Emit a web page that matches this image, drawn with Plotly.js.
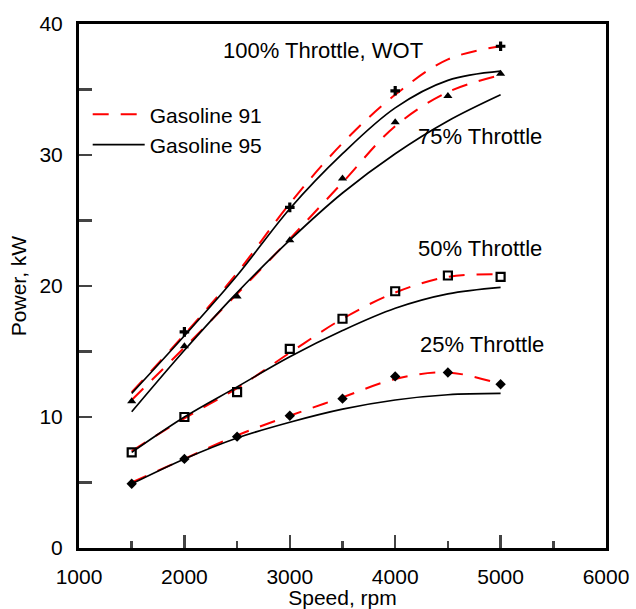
<!DOCTYPE html>
<html>
<head>
<meta charset="utf-8">
<script src="https://cdn.plot.ly/plotly-3.0.1.min.js"></script>
<style>html,body{margin:0;padding:0;background:#fff;}#chart{width:636px;height:609px;}</style>
</head>
<body>
<div id="chart"></div>
<script>
// Speed (rpm) for fitted curves
const speedFit = [1500, 2000, 2500, 3000, 3500, 4000, 4500, 5000];
// Fitted curves, Gasoline 91 (red dashed)
const wot91 = [11.9, 16.3, 21.0, 26.3, 30.9, 34.6, 37.3, 38.3];
const thr75_91 = [11.3, 15.3, 19.4, 23.6, 27.9, 32.2, 34.8, 36.1];
const thr50_91 = [7.4, 9.9, 12.2, 14.9, 17.5, 19.5, 20.7, 20.9];
const thr25_91 = [5.0, 6.8, 8.6, 10.1, 11.5, 12.9, 13.4, 12.5];
// Fitted curves, Gasoline 95 (black solid)
const wot95 = [11.8, 16.2, 20.8, 25.9, 30.1, 33.6, 35.7, 36.4];
const thr75_95 = [10.4, 15.1, 19.5, 23.5, 27.1, 30.1, 32.6, 34.6];
const thr50_95 = [7.3, 10.0, 12.3, 14.6, 16.6, 18.3, 19.4, 19.9];
const thr25_95 = [4.9, 6.8, 8.4, 9.6, 10.6, 11.3, 11.7, 11.8];
// Measured points
const speedWotPts = [2000, 3000, 4000, 5000];
const wotPts = [16.5, 26.0, 34.9, 38.3];
const speedPts = [1500, 2000, 2500, 3000, 3500, 4000, 4500, 5000];
const thr75Pts = [11.2, 15.4, 19.2, 23.5, 28.2, 32.5, 34.5, 36.2];
const thr50Pts = [7.3, 10.0, 11.9, 15.2, 17.5, 19.6, 20.8, 20.7];
const thr25Pts = [4.9, 6.8, 8.5, 10.1, 11.4, 13.1, 13.4, 12.5];
// Labels
const curveLabels = ["100% Throttle, WOT", "75% Throttle", "50% Throttle", "25% Throttle"];
const labelX = [3315, 4805, 4805, 4823];
const labelY = [38.0, 31.4, 22.9, 15.5];

const FONT = "Liberation Sans, Arial, sans-serif";
const redLine = {color: "#ff0000", width: 2, dash: "16px,12px", shape: "spline", smoothing: 1};
const blackLine = {color: "#000000", width: 1.7, shape: "spline", smoothing: 1};

const traces = [];
[wot95, thr75_95, thr50_95, thr25_95].forEach((y, i) => {
  traces.push({x: speedFit, y: y, mode: "lines", line: blackLine, name: "Gasoline 95",
    legendgroup: "g95", showlegend: i === 0, hoverinfo: "skip"});
});
[wot91, thr75_91, thr50_91, thr25_91].forEach((y, i) => {
  traces.push({x: speedFit, y: y, mode: "lines", line: redLine, name: "Gasoline 91",
    legendgroup: "g91", showlegend: i === 0, hoverinfo: "skip"});
});
traces.push({x: speedWotPts, y: wotPts, mode: "markers", showlegend: false,
  marker: {symbol: "cross", size: 8, color: "#000"}});
traces.push({x: speedPts, y: thr75Pts, mode: "markers", showlegend: false,
  marker: {symbol: "triangle-up", size: 8, color: "#000"}});
traces.push({x: speedPts, y: thr50Pts, mode: "markers", showlegend: false,
  marker: {symbol: "square-open", size: 8, color: "#000", line: {width: 2.2, color: "#000"}}});
traces.push({x: speedPts, y: thr25Pts, mode: "markers", showlegend: false,
  marker: {symbol: "diamond", size: 8, color: "#000"}});

// legend order: Gasoline 91 first
const ordered = traces.slice(4, 8).concat(traces.slice(0, 4), traces.slice(8));

const layout = {
  width: 636, height: 609,
  margin: {l: 79, r: 30, t: 24, b: 61},
  paper_bgcolor: "#fff", plot_bgcolor: "#fff",
  font: {family: FONT, size: 21, color: "#000"},
  showlegend: true,
  legend: {x: 0.0165, y: 0.866, xanchor: "left", yanchor: "top", bgcolor: "rgba(0,0,0,0)",
    font: {size: 21}, itemwidth: 52, tracegroupgap: 0, traceorder: "normal"},
  xaxis: {range: [1000, 6000], dtick: 1000, tick0: 1000, ticks: "inside", ticklen: 13, tickwidth: 2.5,
    showline: true, linewidth: 3, linecolor: "#000", mirror: true, showgrid: false, zeroline: false,
    minor: {dtick: 500, ticks: "inside", ticklen: 7, tickwidth: 2.5, showgrid: false},
    ticklabelstandoff: 8,
    title: {text: "Speed, rpm", font: {size: 21}, standoff: 4}},
  yaxis: {range: [0, 40], dtick: 10, ticks: "inside", ticklen: 13, tickwidth: 2.5,
    showline: true, linewidth: 3, linecolor: "#000", mirror: true, showgrid: false, zeroline: false,
    minor: {dtick: 5, ticks: "inside", ticklen: 13, tickwidth: 2.5, showgrid: false},
    ticklabelstandoff: 9,
    title: {text: "Power, kW", font: {size: 21}, standoff: 8}},
  annotations: curveLabels.map((t, i) => ({x: labelX[i], y: labelY[i], text: t, showarrow: false,
    xanchor: "center", yanchor: "middle", font: {size: 22, color: "#000"}}))
};

Plotly.newPlot("chart", ordered, layout, {staticPlot: true});
</script>
</body>
</html>
